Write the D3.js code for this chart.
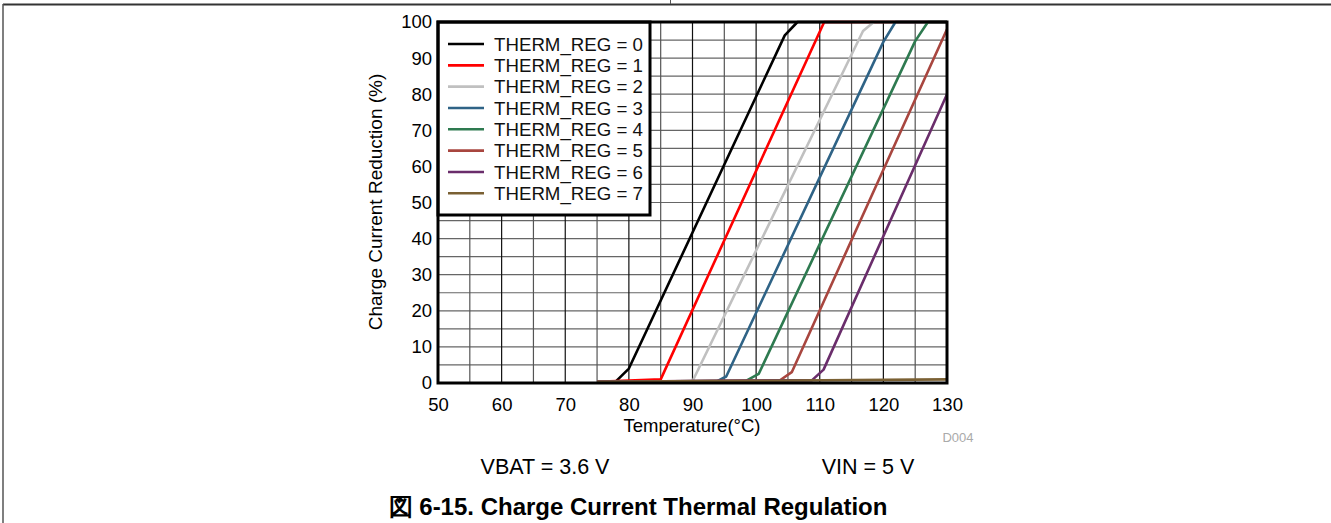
<!DOCTYPE html>
<html><head><meta charset="utf-8">
<script src="https://cdn.jsdelivr.net/npm/d3@7"></script>
<style>body{margin:0;background:#fff;}svg{display:block;font-family:"Liberation Sans",Arial,sans-serif;}</style>
</head><body>
<svg id="c" width="1331" height="523"></svg>
<script>
// ---- data ----
const seriesNames = ["THERM_REG = 0","THERM_REG = 1","THERM_REG = 2","THERM_REG = 3","THERM_REG = 4","THERM_REG = 5","THERM_REG = 6","THERM_REG = 7"];
const seriesColors = ["#000000","#ff0000","#c0c0c0","#2f6386","#2e7a50","#a8463f","#6a2d6b","#7a6033"];
const reg0T = [75,78,80,104.5,106.5,130];   const reg0V = [0.3,0.5,4,96.3,100,100];
const reg1T = [75,85,110.7,130];            const reg1V = [0.3,1,100,100];
const reg2T = [75,90,116.8,118.5,130];      const reg2V = [0.3,0.5,97.5,100,100];
const reg3T = [75,93.9,95.3,120,121.9,130]; const reg3V = [0.3,0.5,1.8,94.5,100,100];
const reg4T = [75,98.4,100.4,125,127,130];  const reg4V = [0.3,0.6,2.5,94.7,100,100];
const reg5T = [75,103.7,105.6,130];         const reg5V = [0.3,0.7,3,98];
const reg6T = [75,108.8,110.6,130];         const reg6V = [0.3,0.8,3.7,80];
const reg7T = [75,100,130];                 const reg7V = [0.3,0.6,1];
const xTicks = [50,60,70,80,90,100,110,120,130];
const yTicks = [0,10,20,30,40,50,60,70,80,90,100];
const xGrid = [55,60,65,70,75,80,85,90,95,100,105,110,115,120,125];
const yGrid = [5,10,15,20,25,30,35,40,45,50,55,60,65,70,75,80,85,90,95];
const xTitle = "Temperature(°C)";
const yTitle = "Charge Current Reduction (%)";
const note1 = "VBAT = 3.6 V", note2 = "VIN = 5 V", tag = "D004";
const caption = "図 6-15. Charge Current Thermal Regulation";

const seriesT = [reg0T,reg1T,reg2T,reg3T,reg4T,reg5T,reg6T,reg7T];
const seriesV = [reg0V,reg1V,reg2V,reg3V,reg4V,reg5V,reg6V,reg7V];

const svg = d3.select("#c");
// page frame
svg.append("line").attr("x1",3).attr("x2",1331).attr("y1",4.5).attr("y2",4.5).attr("stroke","#333").attr("stroke-width",2);
svg.append("line").attr("x1",3).attr("x2",3).attr("y1",4).attr("y2",523).attr("stroke","#555").attr("stroke-width",1.5);
svg.append("line").attr("x1",670.5).attr("x2",670.5).attr("y1",0).attr("y2",4).attr("stroke","#555").attr("stroke-width",1);

const L=438, R=947, T=22, B=383;
const x = d3.scaleLinear().domain([50,130]).range([L,R]);
const y = d3.scaleLinear().domain([0,100]).range([B,T]);

const g = svg.append("g");
// grid
g.selectAll(".hg").data(yGrid).enter().append("line")
 .attr("x1",L).attr("x2",R).attr("y1",d=>y(d)).attr("y2",d=>y(d))
 .attr("stroke","#666").attr("stroke-width",1.2);
g.selectAll(".vg").data(xGrid).enter().append("line")
 .attr("y1",T).attr("y2",B).attr("x1",d=>x(d)).attr("x2",d=>x(d))
 .attr("stroke",d=>d%10===0?"#111":"#555").attr("stroke-width",1.2);

// series
const line = d3.line().x(d=>x(d[0])).y(d=>y(d[1]));
seriesT.forEach((ts,i)=>{
  const pts = ts.map((t,j)=>[t,seriesV[i][j]]);
  g.append("path").attr("d",line(pts)).attr("fill","none")
   .attr("stroke",seriesColors[i]).attr("stroke-width",2.6).attr("stroke-linejoin","round");
});

// axes with labels
const xa = svg.append("g").attr("transform",`translate(0,${B})`)
 .call(d3.axisBottom(x).tickValues(xTicks).tickSize(0).tickPadding(15).tickFormat(d3.format("d")));
xa.select(".domain").remove();
xa.selectAll("text").attr("font-size",18.5).attr("fill","#000").attr("font-family","Liberation Sans, Arial, sans-serif");
const ya = svg.append("g").attr("transform",`translate(${L},0)`)
 .call(d3.axisLeft(y).tickValues(yTicks).tickSize(0).tickPadding(6).tickFormat(d3.format("d")));
ya.select(".domain").remove();
ya.selectAll("text").attr("font-size",18.5).attr("fill","#000").attr("font-family","Liberation Sans, Arial, sans-serif");

// legend
const lg = svg.append("g");
lg.append("rect").attr("x",438).attr("y",22).attr("width",212).attr("height",193)
 .attr("fill","#fff").attr("stroke","#000").attr("stroke-width",3);
seriesNames.forEach((n,i)=>{
  const yy = 44 + i*21.33;
  lg.append("line").attr("x1",448).attr("x2",484).attr("y1",yy).attr("y2",yy)
   .attr("stroke",seriesColors[i]).attr("stroke-width",2.6);
  lg.append("text").attr("x",494).attr("y",yy).attr("dy","0.36em")
   .attr("font-size",18.7).attr("fill","#111").text(n);
});

// plot frame
svg.append("rect").attr("x",L).attr("y",T).attr("width",R-L).attr("height",B-T)
 .attr("fill","none").attr("stroke","#000").attr("stroke-width",3);

// titles
svg.append("text").attr("x",692).attr("y",432).attr("text-anchor","middle").attr("font-size",18.5).text(xTitle);
svg.append("text").attr("transform","translate(382,202) rotate(-90)").attr("text-anchor","middle").attr("font-size",19).text(yTitle);
svg.append("text").attr("x",958).attr("y",442).attr("text-anchor","middle").attr("font-size",13).attr("fill","#aaa").text(tag);
svg.append("text").attr("x",545).attr("y",474).attr("text-anchor","middle").attr("font-size",21.5).text(note1);
svg.append("text").attr("x",868).attr("y",474).attr("text-anchor","middle").attr("font-size",21.5).text(note2);
svg.append("text").attr("x",638).attr("y",515).attr("text-anchor","middle").attr("font-size",24).attr("font-weight","bold").text(caption);
</script>
</body></html>
